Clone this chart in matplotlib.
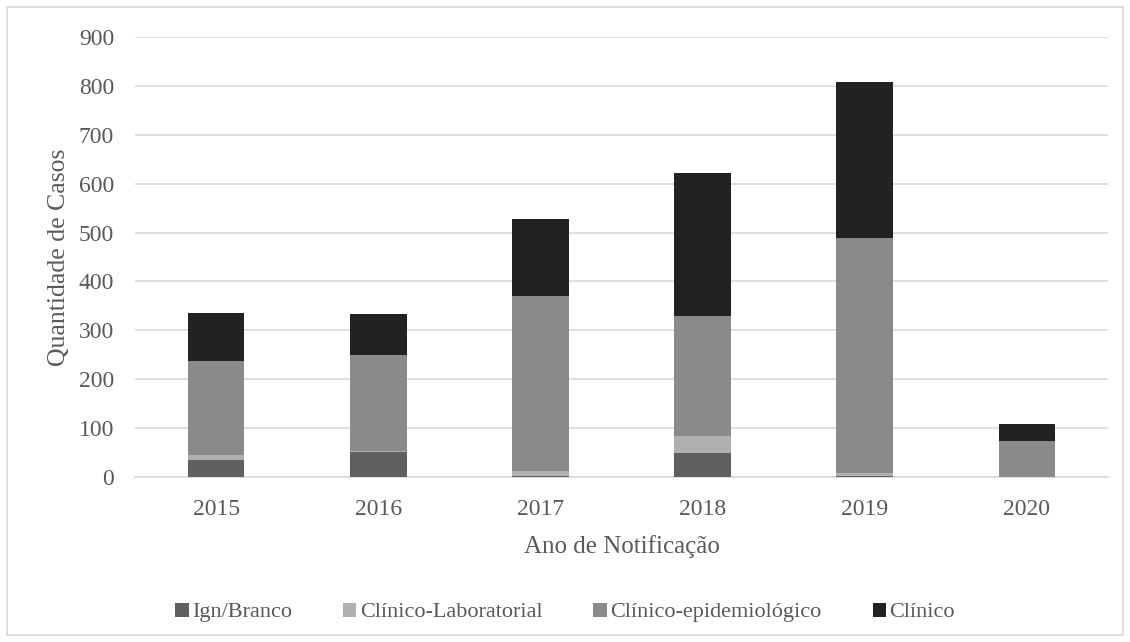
import matplotlib.pyplot as plt
import numpy as np
from matplotlib.patches import Rectangle

plt.rcParams['font.family'] = ['Liberation Serif', 'DejaVu Serif']

anos = ["2015", "2016", "2017", "2018", "2019", "2020"]
ign_branco = [34, 52, 3, 50, 3, 0]
clin_lab = [10, 1, 9, 34, 6, 0]
clin_epi = [194, 197, 359, 246, 479, 74]
clinico = [97, 83, 156, 291, 320, 34]

series = [
    ("Ign/Branco", ign_branco, "#5f5f5f"),
    ("Clínico-Laboratorial", clin_lab, "#b0b0b0"),
    ("Clínico-epidemiológico", clin_epi, "#8a8a8a"),
    ("Clínico", clinico, "#222222"),
]
txt = "#595959"
grid = "#d9d9d9"

fig = plt.figure(figsize=(11.3, 6.42), dpi=100)
ax = fig.add_axes([0.1195, 0.257, 0.861, 0.6854])

x = np.arange(len(anos))
base = np.zeros(len(anos))
for nome, vals, cor in series:
    ax.bar(x, vals, 0.35, bottom=base, color=cor, label=nome, zorder=3)
    base += np.array(vals)

ax.set_xlim(-0.5, len(anos) - 0.5)
ax.set_ylim(0, 900)
ax.set_yticks(range(0, 901, 100))
ax.set_xticks(x)
ax.set_xticklabels(anos)
ax.yaxis.grid(True, color=grid, lw=1.2, zorder=0)
for s in ["top", "right", "left"]:
    ax.spines[s].set_visible(False)
ax.spines["bottom"].set_color(grid)
ax.spines["bottom"].set_linewidth(1.2)
ax.tick_params(length=0, labelsize=17, colors=txt)
ax.tick_params(axis="y", pad=15)
ax.tick_params(axis="x", pad=16)

ax.set_ylabel("Quantidade de Casos", fontsize=18.5, color=txt, labelpad=6)
ax.set_xlabel("Ano de Notificação", fontsize=18, color=txt, labelpad=11)

fig.legend(loc="center", bbox_to_anchor=(0.5, 0.046), ncol=4, frameon=False,
           fontsize=16, labelcolor=txt, handlelength=0.6, handleheight=0.6,
           handletextpad=0.15, columnspacing=2.3)

fig.patches.append(Rectangle((0.006, 0.011), 0.988, 0.978, transform=fig.transFigure,
                             fill=False, edgecolor=grid, lw=1.2))

fig.savefig("out.png", dpi=100)
